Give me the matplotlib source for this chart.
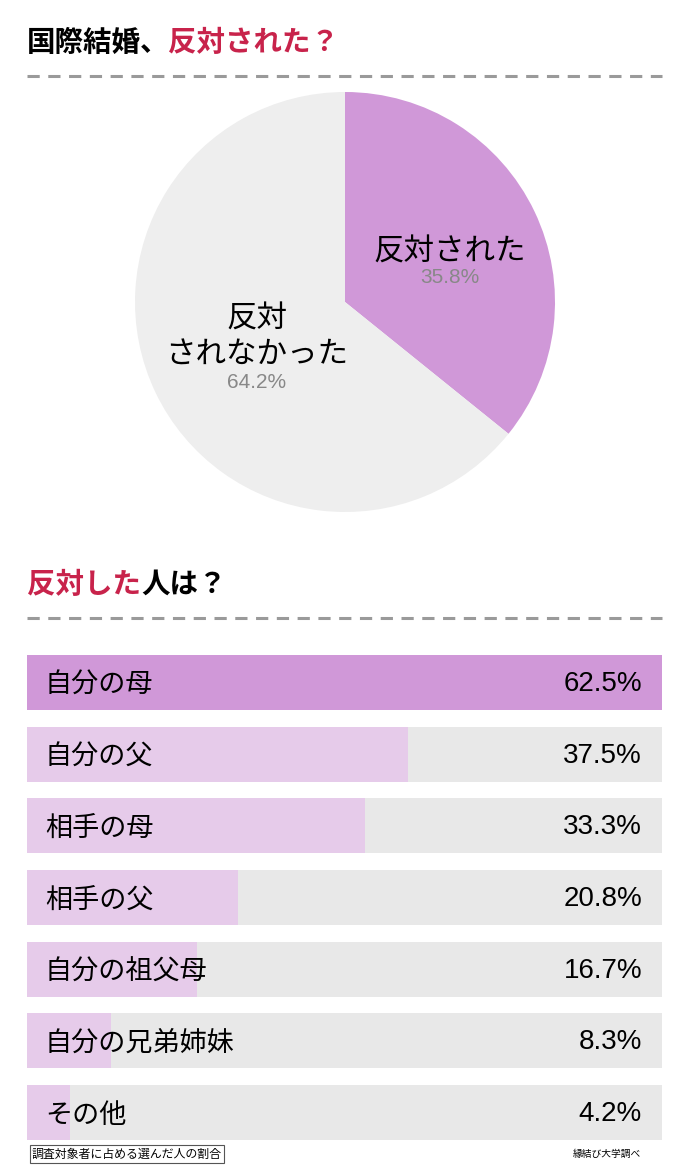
import matplotlib.pyplot as plt

plt.rcParams['font.family'] = ['Noto Sans CJK JP', 'DejaVu Sans']
NUM_FONT = ['Liberation Sans', 'Noto Sans CJK JP']

# pie data
pie_labels = ['反対された', '反対\nされなかった']
pie_values = [35.8, 64.2]
pie_colors = ['#d098d8', '#eeeeee']

# bar data
bar_labels = ['自分の母', '自分の父', '相手の母', '相手の父', '自分の祖父母', '自分の兄弟姉妹', 'その他']
bar_values = [62.5, 37.5, 33.3, 20.8, 16.7, 8.3, 4.2]

RED = '#c8234b'
W, H = 690, 1168

fig = plt.figure(figsize=(W / 100, H / 100), dpi=100)
fig.patch.set_facecolor('white')

def fx(px): return px / W
def fy(py): return 1 - py / H

# titles (two colours in one line)
t = fig.text(fx(27), fy(43), '国際結婚、', fontsize=20.5, fontweight='bold', va='center', ha='left')
fig.canvas.draw()
bb = t.get_window_extent()
fig.text(bb.x1 / W - 0.002, fy(43), '反対された？', fontsize=20.5, fontweight='bold', va='center', ha='left', color=RED)

t2 = fig.text(fx(27), fy(585), '反対した', fontsize=20.5, fontweight='bold', va='center', ha='left', color=RED)
fig.canvas.draw()
bb2 = t2.get_window_extent()
fig.text(bb2.x1 / W, fy(585), '人は？', fontsize=20.5, fontweight='bold', va='center', ha='left')

# dashed separators
for y in (76, 618):
    fig.add_artist(plt.Line2D([fx(27), fx(662)], [fy(y), fy(y)], color='#9a9a9a', lw=2.2,
                              linestyle=(0, (4, 2.8)), transform=fig.transFigure))

# pie
cx, cy, r = 345, 302, 210
pax = fig.add_axes([fx(cx - r), fy(cy + r), 2 * r / W, 2 * r / H])
pax.pie(pie_values, colors=pie_colors, startangle=90, counterclock=False, radius=1,
        wedgeprops=dict(linewidth=0))
pax.set_xlim(-1, 1)
pax.set_ylim(-1, 1)
pax.set_aspect('equal')
pax.axis('off')

pax.text(0.5, 0.24, pie_labels[0], ha='center', va='center', fontsize=22)
pax.text(0.5, 0.115, f'{pie_values[0]}%', ha='center', va='center', fontsize=15,
         color='#888888', family=NUM_FONT)
pax.text(-0.42, -0.165, pie_labels[1], ha='center', va='center', fontsize=22, linespacing=1.18)
pax.text(-0.42, -0.385, f'{pie_values[1]}%', ha='center', va='center', fontsize=15,
         color='#888888', family=NUM_FONT)

# bars
bax = fig.add_axes([fx(27), fy(1140), 635 / W, 485 / H])
n = len(bar_values)
ys = list(range(n))
mx = max(bar_values)
bh = 0.77
bax.barh(ys, [mx] * n, height=bh, color='#e8e8e8', linewidth=0)
colors = ['#d098d8'] + ['#e6cbea'] * (n - 1)
bax.barh(ys, bar_values, height=bh, color=colors, linewidth=0)
bax.set_xlim(0, mx)
bax.set_ylim(n - 1 + bh / 2, -bh / 2)
bax.axis('off')
for i, (lab, v) in enumerate(zip(bar_labels, bar_values)):
    bax.text(18 / 635 * mx, i + 0.04, lab, ha='left', va='center', fontsize=19.5)
    bax.text(615 / 635 * mx, i + 0.02, f'{v}%', ha='right', va='center', fontsize=20, family=NUM_FONT)

# footer
fig.text(fx(32), fy(1154), '調査対象者に占める選んだ人の割合', fontsize=8.6, ha='left', va='center',
         bbox=dict(boxstyle='square,pad=0.2', fc='white', ec='#555555', lw=0.8))
fig.text(fx(641), fy(1154), '縁結び大学調べ', fontsize=7, ha='right', va='center')

fig.savefig('out.png', dpi=100)
